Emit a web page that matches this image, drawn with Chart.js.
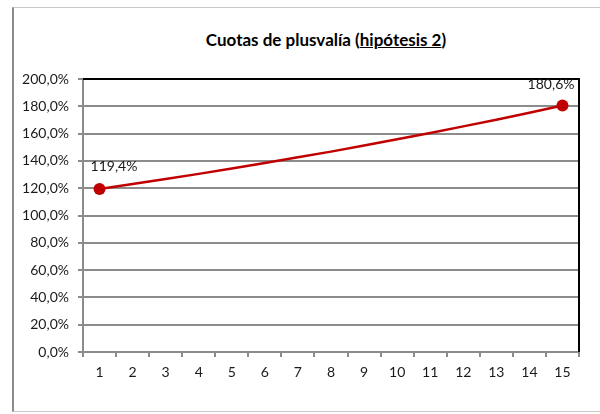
<!DOCTYPE html>
<html>
<head>
<meta charset="utf-8">
<script src="https://cdn.jsdelivr.net/npm/chart.js@4/dist/chart.umd.min.js"></script>
<style>
  html, body { margin: 0; padding: 0; background: #fff; }
  #wrap { position: relative; width: 600px; height: 414px; overflow: hidden; }
  #frame { position: absolute; left: 12px; top: 7px; width: 600px; height: 403px;
           border-left: 2px solid #8c8c8c; border-top: 1px solid #c8c8c8; border-bottom: 1px solid #c8c8c8; }
  #title { position: absolute; left: 0; width: 652px; top: 29px; text-align: center;
           font-family: Lato, "Open Sans", sans-serif; font-weight: bold; font-size: 17px; color: #000; }
  canvas { position: absolute; left: 0; top: 0; }
</style>
</head>
<body>
<div id="wrap">
  <div id="frame"></div>
  <div id="title">Cuotas de plusvalía (<u>hipótesis 2</u>)</div>
  <canvas id="c" width="600" height="414"></canvas>
</div>
<script>
const categories = ['1','2','3','4','5','6','7','8','9','10','11','12','13','14','15'];
const cuotas = [119.4, 123.0, 126.7, 130.5, 134.4, 138.4, 142.6, 146.8, 151.3, 155.8, 160.5, 165.3, 170.2, 175.3, 180.6];
const labelledPoints = [0, 14];
const yMin = 0, yMax = 200, yStep = 20;

const fmt = v => v.toFixed(1).replace('.', ',') + '%';
const FONT = 'Lato, "Open Sans", sans-serif';

const plotExtras = {
  id: 'plotExtras',
  afterDatasetsDraw(chart) {
    const { ctx, chartArea: a } = chart;
    ctx.save();
    ctx.strokeStyle = '#000';
    ctx.lineWidth = 2;
    ctx.beginPath();
    ctx.moveTo(a.left, a.top);
    ctx.lineTo(a.right, a.top);
    ctx.lineTo(a.right, a.bottom);
    ctx.stroke();
    const meta = chart.getDatasetMeta(0);
    ctx.fillStyle = '#1a1a1a';
    ctx.font = '14px ' + FONT;
    ctx.textBaseline = 'middle';
    labelledPoints.forEach((i, k) => {
      const p = meta.data[i];
      if (k === 0) { ctx.textAlign = 'left'; ctx.fillText(fmt(cuotas[i]), p.x - 9, p.y - 23); }
      else { ctx.textAlign = 'right'; ctx.fillText(fmt(cuotas[i]), p.x + 12, p.y - 21); }
    });
    ctx.restore();
  }
};

new Chart(document.getElementById('c'), {
  type: 'line',
  data: {
    labels: categories,
    datasets: [{
      data: cuotas,
      borderColor: '#c00000',
      borderWidth: 2.5,
      backgroundColor: '#c00000',
      pointRadius: cuotas.map((v, i) => labelledPoints.includes(i) ? 6 : 0),
      pointHoverRadius: 0,
      pointBorderWidth: 0,
      tension: 0,
      fill: false
    }]
  },
  options: {
    responsive: false,
    animation: false,
    events: [],
    layout: { padding: { top: 79, right: 21, left: 0, bottom: 0 } },
    plugins: { legend: { display: false }, title: { display: false }, tooltip: { enabled: false } },
    scales: {
      x: {
        offset: true,
        grid: { drawOnChartArea: false, drawTicks: true, tickLength: 5, color: '#8c8c8c', lineWidth: 2, offset: true },
        border: { color: '#8c8c8c', width: 2 },
        ticks: { color: '#1a1a1a', font: { family: FONT, size: 14 }, padding: 7, maxRotation: 0, autoSkip: false },
        afterFit(s) { s.height = 62; }
      },
      y: {
        min: yMin, max: yMax,
        grid: { color: '#8c8c8c', lineWidth: 2, tickLength: 5 },
        border: { color: '#8c8c8c', width: 2 },
        ticks: { stepSize: yStep, color: '#1a1a1a', font: { family: FONT, size: 14 }, padding: 9, callback: v => fmt(v) },
        afterFit(s) { s.width = 83; }
      }
    }
  },
  plugins: [plotExtras]
});
</script>
</body>
</html>
